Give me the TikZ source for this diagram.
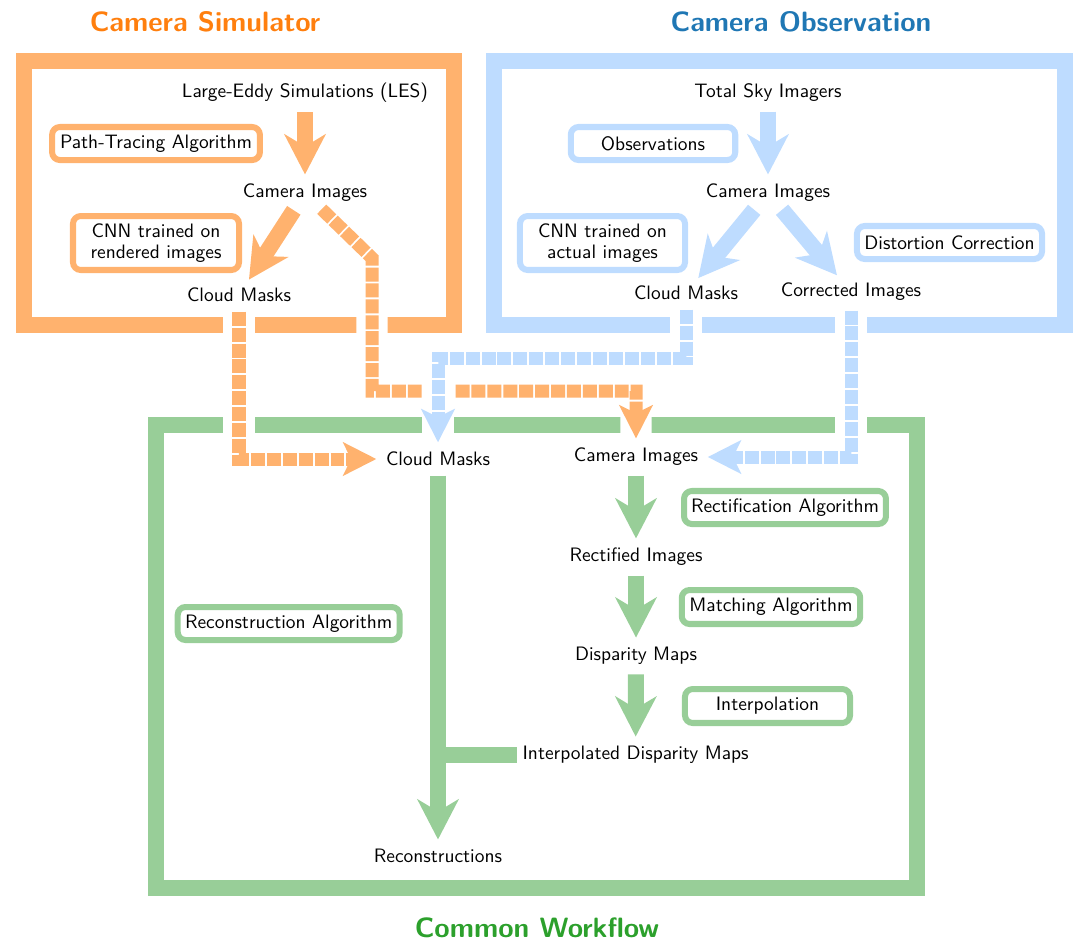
\documentclass[tikz,border=0pt]{standalone}
\usetikzlibrary{arrows.meta}
\definecolor{lorange}{RGB}{255,178,110}
\definecolor{lblue}{RGB}{190,220,255}
\definecolor{lgreen}{RGB}{152,206,152}
\definecolor{torange}{RGB}{255,127,14}
\definecolor{tblue}{RGB}{31,119,180}
\definecolor{tgreen}{RGB}{44,160,44}
\begin{document}
\begin{tikzpicture}[x=0.515pt,y=-0.515pt,font=\sffamily,
  frm/.style={line width=8.5pt},
  ttl/.style={font=\sffamily\Large\bfseries, inner sep=0pt},
  txt/.style={inner sep=1pt, outer sep=0pt},
  lbl/.style={draw=#1, line width=3.1pt, rounded corners=4pt, fill=white, align=center, inner sep=0pt},
  flow/.style={draw=#1, line width=8.24pt, shorten <=4pt, shorten >=4pt, -{Stealth[length=20.6pt,width=21.1pt,inset=6.2pt,fill=#1]}},
  dflow/.style={draw=#1, line width=6.7pt, dash pattern=on 7.2pt off 1pt, shorten <=4pt, shorten >=4pt, -{Stealth[length=17pt,width=17pt,inset=4pt,fill=#1]}},
  halo/.style={draw=white, line width=16pt, shorten <=4pt, shorten >=4pt},
]
\useasboundingbox (0,0) rectangle (1077,942);

% titles
\node[ttl, text=torange] (tsim) at (205,22) {Camera Simulator};
\node[ttl, text=tblue] (tobs) at (801,22) {Camera Observation};
\node[ttl, text=tgreen] (tcom) at (537,928) {Common Workflow};

% frames
\draw[frm, lorange] (24,61) rectangle (454,325);
\draw[frm, lblue] (494,61) rectangle (1065,325);
\draw[frm, lgreen] (156,425) rectangle (917,888);

% camera simulator
\node[txt] (les) at (305,93) {Large-Eddy Simulations (LES)};
\node[txt] (cam1) at (305,193) {Camera Images};
\node[txt] (cm1) at (239,295) {Cloud Masks};
\node[lbl=lorange, minimum width=107pt, minimum height=17pt] (pt) at (156,143.5) {Path-Tracing Algorithm};
\node[lbl=lorange, minimum width=85.5pt, minimum height=27.8pt] (cnn1) at (156,243) {CNN trained on\\[-1pt]rendered images};

% camera observation
\node[txt] (tsi) at (768,93) {Total Sky Imagers};
\node[txt] (cam2) at (768,193) {Camera Images};
\node[txt] (cm2) at (686,293) {Cloud Masks};
\node[txt] (corr) at (851,292) {Corrected Images};
\node[lbl=lblue, minimum width=84.7pt, minimum height=17pt] (obs) at (653,143.5) {Observations};
\node[lbl=lblue, minimum width=85pt, minimum height=27.8pt] (cnn2) at (602.5,243) {CNN trained on\\[-1pt]actual images};
\node[lbl=lblue, minimum width=95.3pt, minimum height=17pt] (dist) at (949.5,242.5) {Distortion Correction};

% common workflow
\node[txt] (cm3) at (438,459) {Cloud Masks};
\node[txt] (cam3) at (636,457) {Camera Images};
\node[txt] (rect) at (636,557) {Rectified Images};
\node[txt] (disp) at (636,656) {Disparity Maps};
\node[txt] (interp) at (635.6,755) {Interpolated Disparity Maps};
\node[txt] (recon) at (438,856) {Reconstructions};
\node[lbl=lgreen, minimum width=104pt, minimum height=17pt] (rectalg) at (785,507.5) {Rectification Algorithm};
\node[lbl=lgreen, minimum width=91.9pt, minimum height=17.5pt] (matchalg) at (771,607) {Matching Algorithm};
\node[lbl=lgreen, minimum width=85pt, minimum height=17.5pt] (interpalg) at (767.5,706) {Interpolation};
\node[lbl=lgreen, minimum width=114.3pt, minimum height=17pt] (reconalg) at (288.7,623.5) {Reconstruction Algorithm};

% bend points
\coordinate (b1) at (372,258);
\coordinate (b2) at (636,391);
\coordinate (b3) at (438,358);

% solid arrows
\draw[flow=lorange] (les) -- (cam1);
\draw[flow=lorange] (cam1) -- (cm1);
\draw[flow=lblue] (tsi) -- (cam2);
\draw[flow=lblue] (cam2) -- (cm2);
\draw[flow=lblue] (cam2) -- (corr);
\draw[flow=lgreen] (cam3) -- (rect);
\draw[flow=lgreen] (rect) -- (disp);
\draw[flow=lgreen] (disp) -- (interp);
\draw[flow=lgreen] (cm3) -- (recon);
\draw[lgreen, line width=8.24pt, shorten <=2pt] (interp.west) -- (cm3 |- interp);

% dashed orange
\draw[halo] (cam1) -- (b1) |- (b2) -- (cam3);
\draw[dflow=lorange] (cam1) -- (b1) |- (b2) -- (cam3);
\draw[halo] (cm1) |- (cm3);
\draw[dflow=lorange] (cm1) |- (cm3);

% dashed blue
\draw[halo] (cm2) |- (b3) -- (cm3);
\draw[dflow=lblue] (cm2) |- (b3) -- (cm3);
\draw[halo] (corr) |- (cam3);
\draw[dflow=lblue] (corr) |- (cam3);
\end{tikzpicture}
\end{document}
